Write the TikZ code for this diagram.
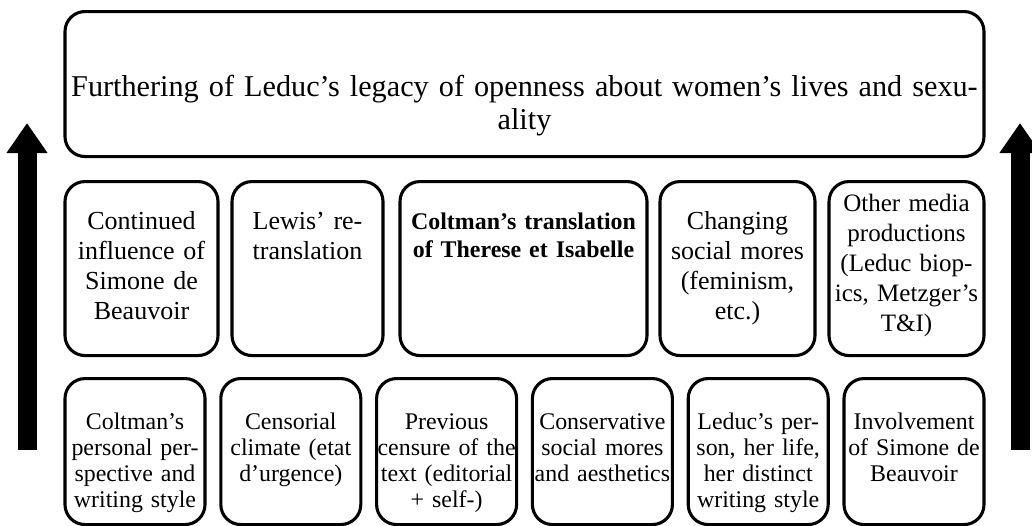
\documentclass[tikz,border=0pt]{standalone}
\usepackage{fontspec}
\setmainfont{Liberation Serif}
\usetikzlibrary{arrows.meta}

\begin{document}
\begin{tikzpicture}[
  rowbox/.style={
    rectangle, rounded corners=0.5cm,
    draw=black, line width=2.2pt, fill=white,
    align=center, inner sep=0pt, anchor=north
  },
  goalbox/.style={
    rowbox, font=\fontsize{21.5}{23.4}\selectfont,
    text width=22.975cm, text height=2.125cm, text depth=1.5cm
  },
  midbox/.style={
    rowbox, font=\fontsize{18.5}{21.3}\selectfont,
    text height=1.2cm, text depth=3.15cm
  },
  basebox/.style={
    rowbox, font=\fontsize{17}{18.4}\selectfont,
    text width=3.5cm, text height=1.275cm, text depth=2.375cm
  },
  uparr/.style={
    line width=0.475cm, black,
    -{Triangle[width=0.975cm, length=0.75cm]}
  }
]
\useasboundingbox (0,0) rectangle (25.8,-13.125);

%% ── Outcome (top) ──────────────────────────────────────────────────
\node[goalbox] (legacy) at (13.1125,-0.25)
  {Furthering of Leduc's legacy of openness about women's lives and sexu-\\ality};

%% ── Middle row ─────────────────────────────────────────────────────
\node[midbox, text width=3.825cm] (influence) at (3.5375,-4.5)
  {Continued\\influence of\\Simone de\\Beauvoir};
\node[midbox, text width=3.775cm] (lewis) at (7.6875,-4.5)
  {Lewis' re-\\translation};
\node[midbox, text width=6.175cm, font=\fontsize{17}{20}\selectfont\bfseries]
  (coltman) at (13.0875,-4.5)
  {Coltman's translation\\of Therese et Isabelle};
\node[midbox, text width=3.875cm] (mores) at (18.4375,-4.5)
  {Changing\\social mores\\(feminism,\\etc.)};
\node[midbox, text width=3.875cm, text height=0.75cm, text depth=3.6cm,
  font=\fontsize{17.8}{21.3}\selectfont]
  (media) at (22.6625,-4.5)
  {Other media\\productions\\(Leduc biop-\\ics, Metzger's\\T\&I)};

%% ── Bottom row ─────────────────────────────────────────────────────
\node[basebox] (perspective) at (3.375,-9.425)
  {Coltman's\\personal per-\\spective and\\writing style};
\node[basebox] (climate) at (7.27,-9.425)
  {Censorial\\climate (etat\\d'urgence)};
\node[basebox] (censure) at (11.165,-9.425)
  {Previous\\censure of the\\text (editorial\\+ self-)};
\node[basebox] (conserv) at (15.06,-9.425)
  {Conservative\\social mores\\and aesthetics};
\node[basebox] (person) at (18.955,-9.425)
  {Leduc's per-\\son, her life,\\her distinct\\writing style};
\node[basebox] (involve) at (22.85,-9.425)
  {Involvement\\of Simone de\\Beauvoir};

%% ── Side arrows ────────────────────────────────────────────────────
\coordinate (lfoot) at (0.675,-11.25);
\coordinate (ltip)  at (0.675,-3.075);
\coordinate (rfoot) at (25.5,-11.25);
\coordinate (rtip)  at (25.5,-3.075);
\draw[uparr] (lfoot) -- (ltip);
\draw[uparr] (rfoot) -- (rtip);

\end{tikzpicture}
\end{document}
